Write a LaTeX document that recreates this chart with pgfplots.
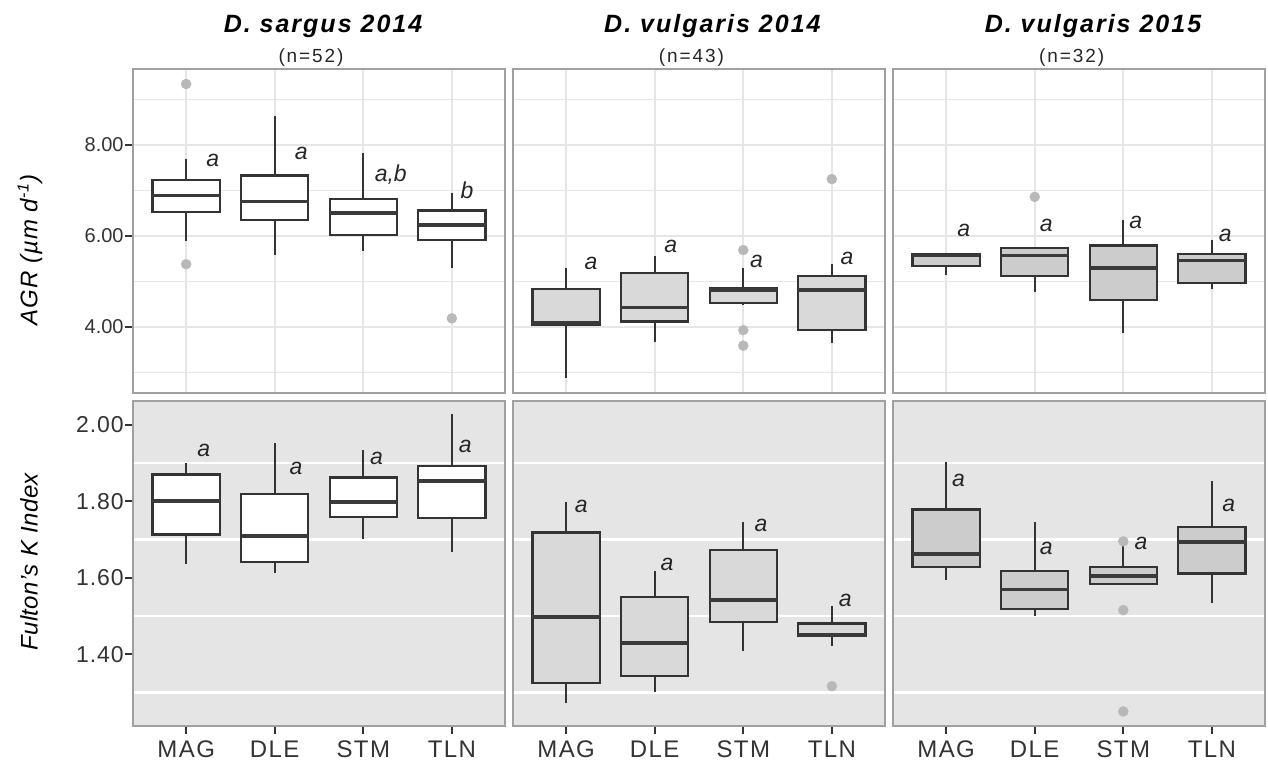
\documentclass[border=0pt]{standalone}
\usepackage{pgfplots}
\pgfplotsset{compat=1.18}
\usepgfplotslibrary{statistics}
\usepackage{fontspec}
\setmainfont{Liberation Sans}

\definecolor{boxd}{HTML}{333333}
\definecolor{medd}{HTML}{3A3A3A}
\definecolor{frame}{HTML}{A0A0A0}
\definecolor{gridl}{HTML}{E6E6E6}
\definecolor{bgray}{HTML}{E5E5E5}
\definecolor{outc}{HTML}{B8B8B8}
\definecolor{fillA}{HTML}{D9D9D9}
\definecolor{fillB}{HTML}{CCCCCC}
\definecolor{tickc}{HTML}{333333}

\newcommand\fs[1]{\fontsize{#1}{#1}\selectfont}

\tikzset{lab/.style={font=\fs{11.5}\itshape, text=black!85}}

\pgfplotsset{
 panel/.style={scale only axis, width=186pt, xmin=0.4, xmax=4.6, xtick={1,2,3,4},
   boxplot/draw direction=y,
   axis line style={draw=frame, line width=1pt},
   xtick pos=bottom, ytick pos=left,
   tick style={draw=tickc, line width=0.9pt}, tick align=outside, major tick length=4pt,
   minor tick length=0pt,
   /pgf/number format/assume math mode=true,
   yticklabel style={/pgf/number format/fixed, /pgf/number format/fixed zerofill,
     /pgf/number format/precision=2, inner sep=0.5pt, text=black!80},
   xticklabel style={text=black!80, font=\fs{12}\addfontfeatures{LetterSpace=6}},
   clip=false},
 toprow/.style={height=162pt, ymin=2.55, ymax=9.67, ytick={4,6,8}, minor ytick={3,5,7,9},
   ymajorgrids, yminorgrids, xmajorgrids,
   major grid style={draw=gridl, line width=0.9pt}, minor grid style={draw=gridl, line width=0.9pt},
   xticklabels={}, xtick style={draw=none},
   yticklabel style={font=\fs{10}}},
 botrow/.style={height=162.5pt, ymin=1.212, ymax=2.062, ytick={1.4,1.6,1.8,2.0},
   minor ytick={1.3,1.5,1.7,1.9}, yminorgrids,
   minor grid style={draw=white, line width=1.2pt},
   axis background/.style={fill=bgray},
   xticklabels={MAG,DLE,STM,TLN},
   yticklabel style={font=\fs{11.5}\addfontfeatures{LetterSpace=4}}},
 inner/.style={yticklabels={}, ytick style={draw=none}},
 bxs/.style={draw=boxd, line width=1.1pt, mark=*, mark size=2.5pt,
   mark options={fill=outc, draw=outc, line width=0.2pt, solid},
   boxplot/draw direction=y,
   boxplot/whisker extend=0, boxplot/box extend=0.76,
   boxplot/every median/.style={line width=1.9pt, draw=medd}},
}

% \bx{position}{lower whisker}{lower quartile}{median}{upper quartile}{upper whisker}{fill}{outliers}
\newcommand\bx[8]{\addplot[bxs, fill=#7, boxplot prepared={draw position=#1, lower whisker=#2,
   lower quartile=#3, median=#4, upper quartile=#5, upper whisker=#6}] coordinates {#8};}

\begin{document}
\begin{tikzpicture}

% ---------- Top row: AGR ----------
\begin{axis}[panel, toprow, at={(66.5pt,185pt)}, anchor=south west]
\bx{1}{5.88}{6.53}{6.89}{7.23}{7.69}{white}{(0,9.34) (0,5.38)}
\bx{2}{5.58}{6.35}{6.76}{7.33}{8.64}{white}{}
\bx{3}{5.68}{6.02}{6.51}{6.82}{7.83}{white}{}
\bx{4}{5.30}{5.91}{6.24}{6.56}{6.94}{white}{(0,4.19)}
\node[lab] at (axis cs:1.30,7.67) {a};
\node[lab] at (axis cs:2.30,7.82) {a};
\node[lab] at (axis cs:3.31,7.34) {a,b};
\node[lab] at (axis cs:4.17,7.01) {b};
\end{axis}

\begin{axis}[panel, toprow, inner, at={(256.5pt,185pt)}, anchor=south west]
\bx{1}{2.87}{4.05}{4.08}{4.83}{5.29}{fillA}{}
\bx{2}{3.68}{4.12}{4.43}{5.19}{5.55}{fillA}{}
\bx{3}{4.48}{4.53}{4.81}{4.85}{5.29}{fillA}{(0,5.69) (0,3.93) (0,3.59)}
\bx{4}{3.64}{3.93}{4.81}{5.12}{5.38}{fillA}{(0,7.25)}
\node[lab] at (axis cs:1.28,5.40) {a};
\node[lab] at (axis cs:2.18,5.76) {a};
\node[lab] at (axis cs:3.15,5.44) {a};
\node[lab] at (axis cs:4.17,5.51) {a};
\end{axis}

\begin{axis}[panel, toprow, inner, at={(446.5pt,185pt)}, anchor=south west]
\bx{1}{5.14}{5.34}{5.57}{5.60}{5.63}{fillB}{}
\bx{2}{4.78}{5.12}{5.57}{5.73}{5.75}{fillB}{(0,6.86)}
\bx{3}{3.86}{4.59}{5.30}{5.79}{6.35}{fillB}{}
\bx{4}{4.83}{4.96}{5.46}{5.60}{5.91}{fillB}{}
\node[lab] at (axis cs:1.20,6.13) {a};
\node[lab] at (axis cs:2.13,6.23) {a};
\node[lab] at (axis cs:3.14,6.29) {a};
\node[lab] at (axis cs:4.15,6.02) {a};
\end{axis}

% ---------- Bottom row: Fulton's K ----------
\begin{axis}[panel, botrow, at={(66.5pt,18.5pt)}, anchor=south west]
\bx{1}{1.635}{1.713}{1.801}{1.870}{1.900}{white}{}
\bx{2}{1.613}{1.641}{1.708}{1.818}{1.953}{white}{}
\bx{3}{1.700}{1.759}{1.797}{1.862}{1.935}{white}{}
\bx{4}{1.666}{1.756}{1.852}{1.893}{2.028}{white}{}
\node[lab] at (axis cs:1.20,1.933) {a};
\node[lab] at (axis cs:2.24,1.886) {a};
\node[lab] at (axis cs:3.15,1.912) {a};
\node[lab] at (axis cs:4.15,1.942) {a};
\end{axis}

\begin{axis}[panel, botrow, inner, at={(256.5pt,18.5pt)}, anchor=south west]
\bx{1}{1.272}{1.324}{1.497}{1.718}{1.798}{fillA}{}
\bx{2}{1.300}{1.342}{1.430}{1.550}{1.618}{fillA}{}
\bx{3}{1.408}{1.484}{1.541}{1.672}{1.746}{fillA}{}
\bx{4}{1.421}{1.447}{1.451}{1.480}{1.525}{fillA}{(0,1.316)}
\node[lab] at (axis cs:1.17,1.787) {a};
\node[lab] at (axis cs:2.14,1.635) {a};
\node[lab] at (axis cs:3.20,1.737) {a};
\node[lab] at (axis cs:4.15,1.541) {a};
\end{axis}

\begin{axis}[panel, botrow, inner, at={(446.5pt,18.5pt)}, anchor=south west]
\bx{1}{1.593}{1.628}{1.661}{1.778}{1.903}{fillB}{}
\bx{2}{1.499}{1.519}{1.569}{1.617}{1.746}{fillB}{}
\bx{3}{1.580}{1.583}{1.604}{1.627}{1.689}{fillB}{(0,1.695) (0,1.515) (0,1.25)}
\bx{4}{1.534}{1.611}{1.693}{1.733}{1.852}{fillB}{}
\node[lab] at (axis cs:1.14,1.855) {a};
\node[lab] at (axis cs:2.13,1.676) {a};
\node[lab] at (axis cs:3.20,1.689) {a};
\node[lab] at (axis cs:4.19,1.790) {a};
\end{axis}

% ---------- Titles ----------
\begin{scope}[every node/.style={anchor=base}]
\node[font=\fs{12.5}\bfseries\itshape\addfontfeatures{LetterSpace=8}] at (161.5pt,365pt) {D. sargus 2014};
\node[font=\fs{12.5}\bfseries\itshape\addfontfeatures{LetterSpace=8}] at (356.2pt,365pt) {D. vulgaris 2014};
\node[font=\fs{12.5}\bfseries\itshape\addfontfeatures{LetterSpace=8}] at (546.5pt,365pt) {D. vulgaris 2015};
\node[font=\fs{9.5}\addfontfeatures{LetterSpace=10}, text=black!85] at (155.5pt,350pt) {(n=52)};
\node[font=\fs{9.5}\addfontfeatures{LetterSpace=10}, text=black!85] at (345.7pt,350pt) {(n=43)};
\node[font=\fs{9.5}\addfontfeatures{LetterSpace=10}, text=black!85] at (535.8pt,350pt) {(n=32)};
\end{scope}

% ---------- Y-axis titles ----------
\node[rotate=90, font=\fs{12}\itshape\addfontfeatures{LetterSpace=4}] at (15pt,256.5pt) {AGR (µm d\textsuperscript{-1})};
\node[rotate=90, font=\fs{12}\itshape\addfontfeatures{LetterSpace=2}] at (14.5pt,100.5pt) {Fulton's K Index};

\pgfresetboundingbox
\path (0pt,0pt) rectangle (634pt,381.5pt);
\end{tikzpicture}
\end{document}
